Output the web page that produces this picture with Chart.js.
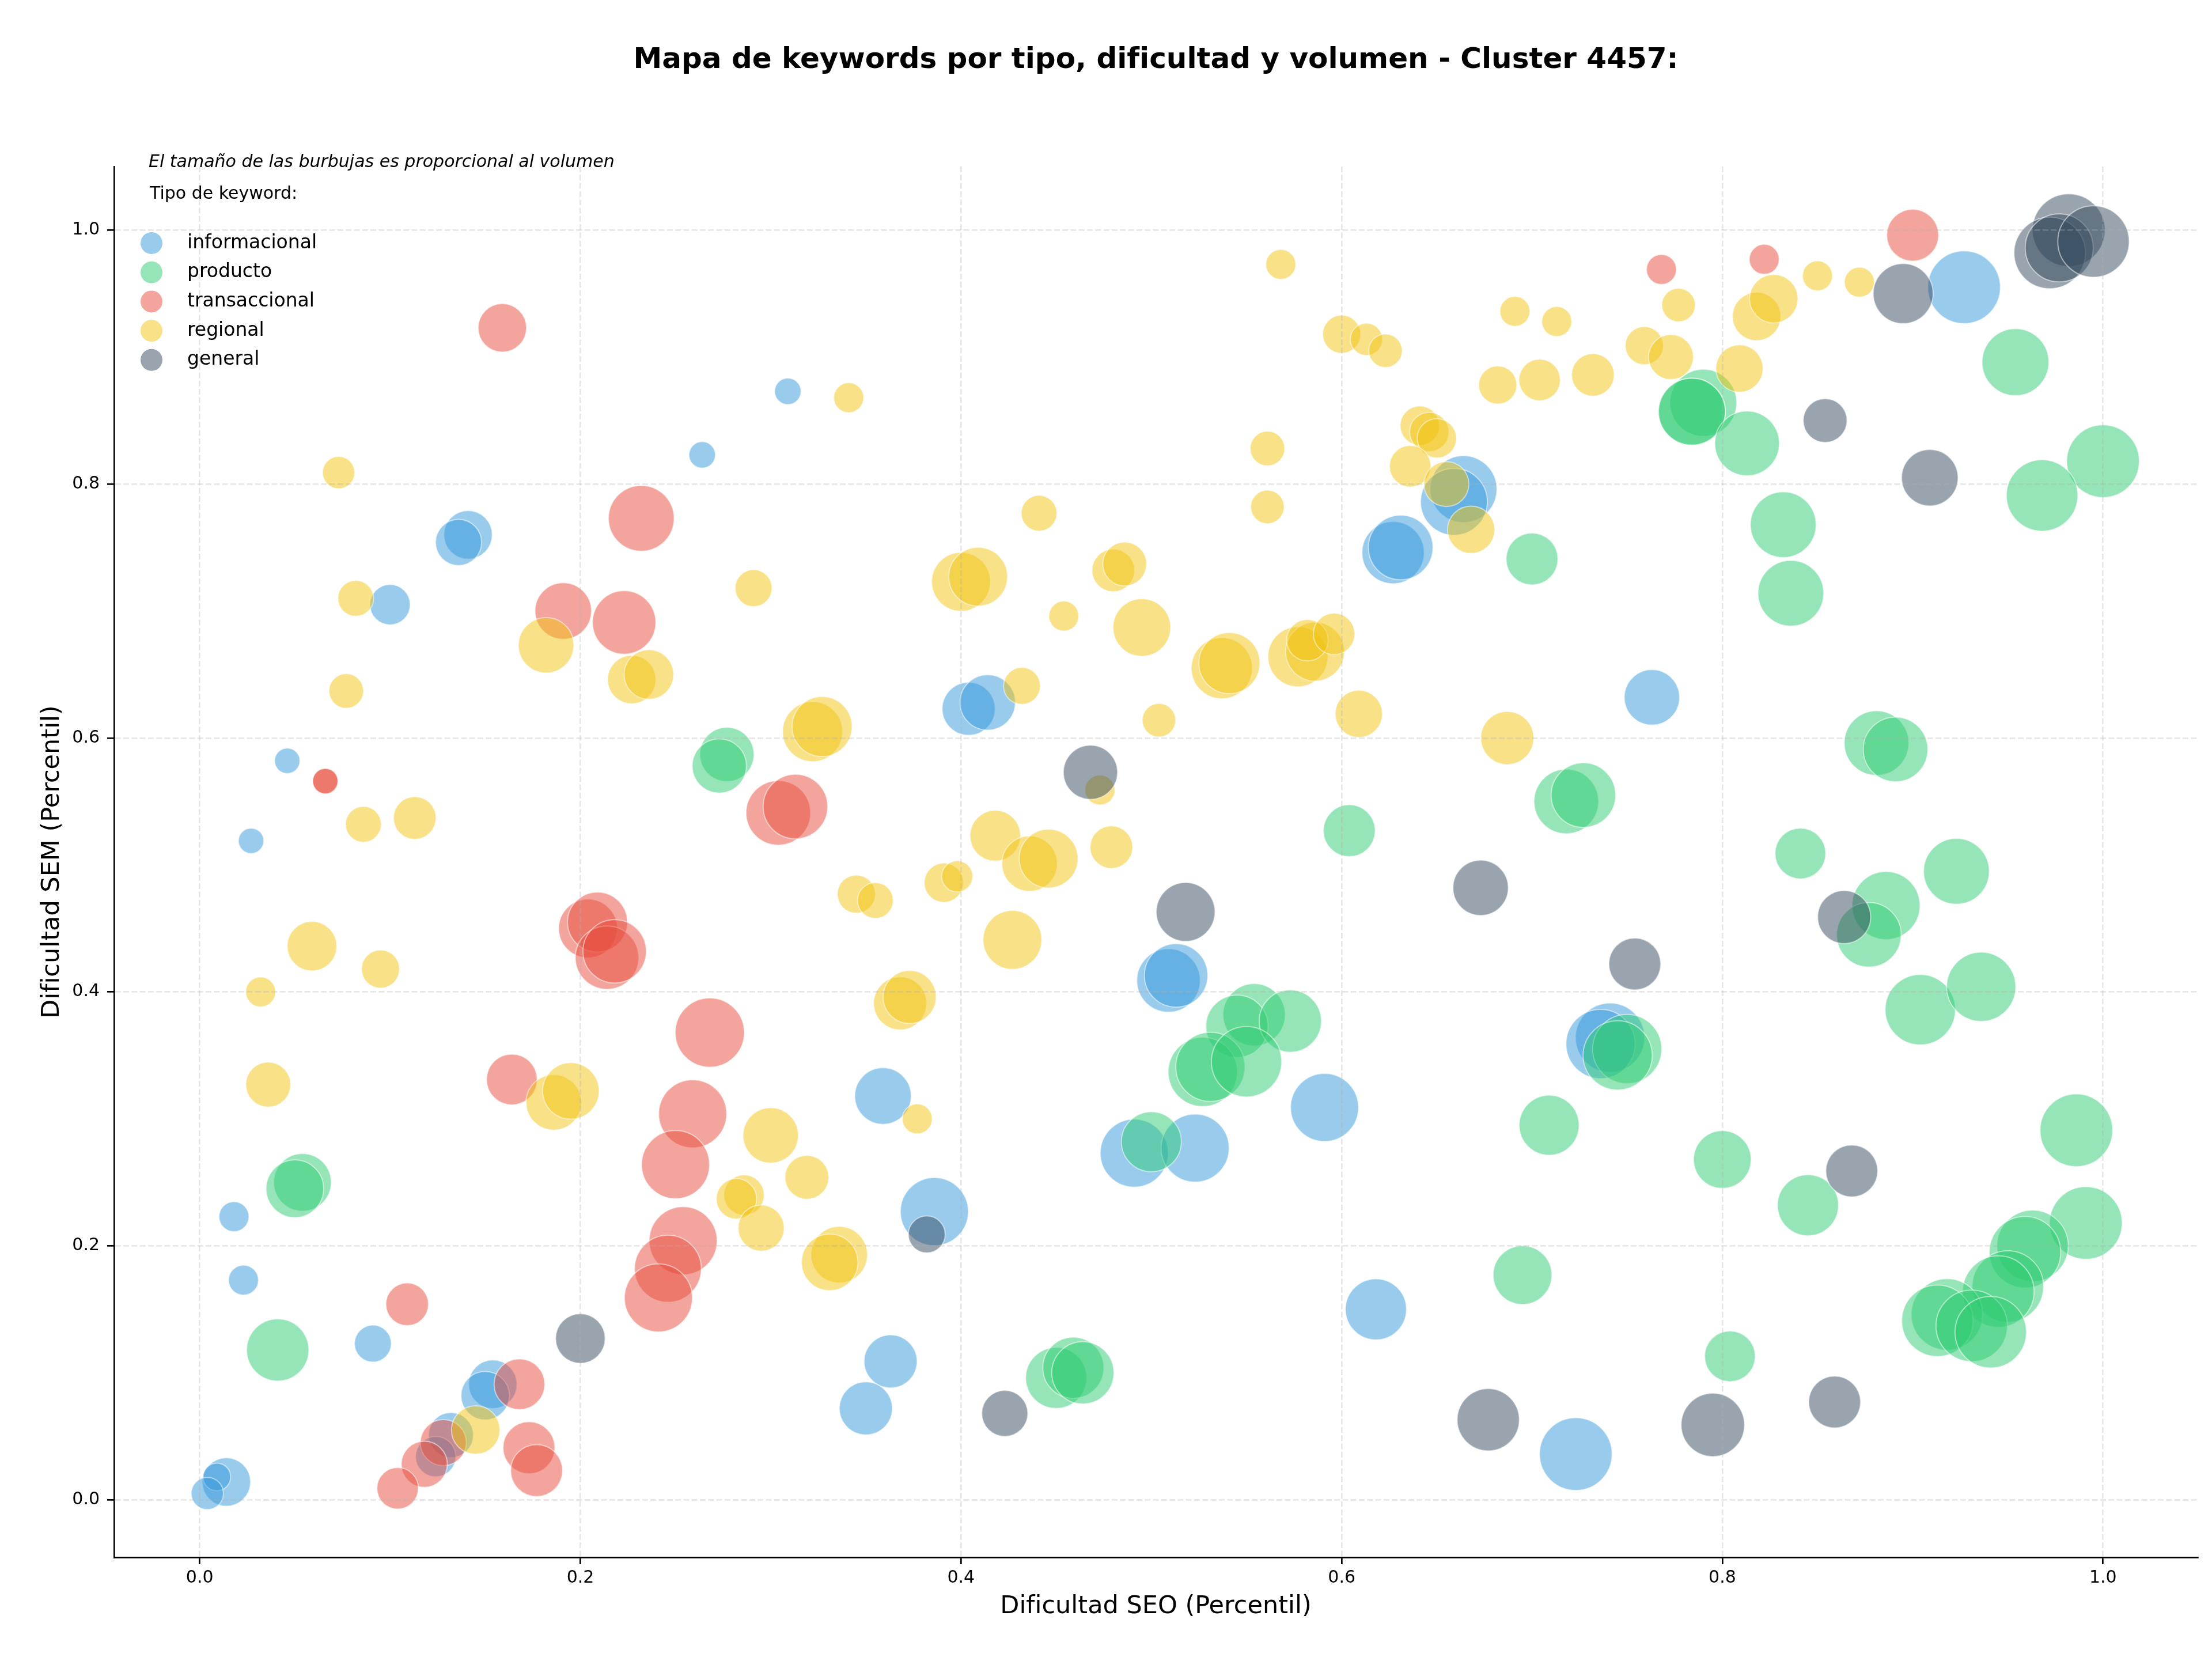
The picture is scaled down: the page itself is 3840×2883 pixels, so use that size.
<!DOCTYPE html>
<html lang="es">
<head>
<meta charset="utf-8">
<title>Mapa de keywords - Cluster 4457</title>
<script src="https://cdn.jsdelivr.net/npm/chart.js@4.4.1/dist/chart.umd.min.js"></script>
<style>
    html, body { margin: 0; padding: 0; background: #ffffff; }
    #wrap { width: 3840px; height: 2883px; }
</style>
</head>
<body>
<div id="wrap"><canvas id="keywordChart" width="3840" height="2883"></canvas></div>
<script>
// Dificultad SEO (x), dificultad SEM (y) y volumen por tipo de keyword
const infoSeo = [0.309, 0.264, 0.141, 0.136, 0.100, 0.046, 0.027, 0.664, 0.659, 0.627, 0.631, 0.404, 0.414, 0.927, 0.763, 0.018, 0.023, 0.091, 0.154, 0.150, 0.132, 0.124, 0.014, 0.009, 0.004, 0.509, 0.513, 0.591, 0.359, 0.491, 0.523, 0.386, 0.618, 0.363, 0.350, 0.741, 0.736, 0.723];
const infoSem = [0.873, 0.823, 0.760, 0.754, 0.705, 0.582, 0.519, 0.796, 0.786, 0.746, 0.750, 0.623, 0.628, 0.955, 0.632, 0.223, 0.173, 0.123, 0.091, 0.082, 0.051, 0.034, 0.014, 0.018, 0.005, 0.409, 0.413, 0.309, 0.318, 0.273, 0.277, 0.227, 0.150, 0.109, 0.072, 0.364, 0.359, 0.036];
const infoVol = [940, 940, 3140, 2840, 2180, 860, 860, 5980, 5980, 5180, 5580, 3760, 4100, 7060, 4100, 1200, 1200, 1820, 3140, 3140, 2700, 2180, 3140, 1020, 1390, 5380, 5380, 6190, 4270, 6190, 6190, 6190, 4990, 3760, 3760, 6400, 6400, 7060];

const prodSeo = [0.277, 0.273, 0.604, 0.790, 0.784, 0.784, 0.813, 0.954, 1.000, 0.968, 0.700, 0.832, 0.836, 0.881, 0.891, 0.718, 0.727, 0.841, 0.054, 0.050, 0.041, 0.554, 0.545, 0.573, 0.527, 0.531, 0.550, 0.500, 0.450, 0.459, 0.464, 0.750, 0.745, 0.709, 0.800, 0.845, 0.695, 0.804, 0.886, 0.877, 0.923, 0.904, 0.936, 0.986, 0.991, 0.963, 0.959, 0.950, 0.945, 0.918, 0.913, 0.931, 0.941];
const prodSem = [0.587, 0.578, 0.527, 0.864, 0.857, 0.857, 0.832, 0.896, 0.818, 0.791, 0.741, 0.768, 0.714, 0.596, 0.591, 0.550, 0.555, 0.509, 0.250, 0.245, 0.118, 0.382, 0.373, 0.377, 0.337, 0.341, 0.345, 0.282, 0.096, 0.104, 0.100, 0.355, 0.350, 0.295, 0.268, 0.232, 0.177, 0.113, 0.468, 0.445, 0.495, 0.386, 0.404, 0.291, 0.218, 0.200, 0.195, 0.168, 0.164, 0.146, 0.141, 0.137, 0.132];
const prodVol = [3930, 3930, 3600, 5980, 5980, 5980, 5580, 5980, 7060, 6830, 3600, 5780, 5780, 5580, 5580, 5580, 5580, 3440, 4440, 4440, 5180, 5180, 5180, 5180, 6400, 6400, 6620, 4810, 4990, 4990, 5180, 6400, 6400, 4810, 4440, 4990, 4620, 3440, 6190, 5580, 5780, 6620, 6400, 7060, 7060, 6830, 6830, 6830, 6830, 6830, 6830, 6830, 6830];

const transSeo = [0.159, 0.232, 0.191, 0.223, 0.066, 0.066, 0.304, 0.313, 0.768, 0.822, 0.900, 0.204, 0.209, 0.214, 0.218, 0.268, 0.259, 0.250, 0.254, 0.246, 0.241, 0.164, 0.109, 0.168, 0.128, 0.118, 0.104, 0.173, 0.177];
const transSem = [0.923, 0.773, 0.700, 0.691, 0.566, 0.566, 0.541, 0.546, 0.969, 0.977, 0.996, 0.450, 0.455, 0.427, 0.432, 0.368, 0.304, 0.264, 0.204, 0.182, 0.159, 0.331, 0.154, 0.091, 0.045, 0.028, 0.009, 0.041, 0.023];
const transVol = [3140, 5780, 4270, 5380, 860, 860, 5580, 5580, 1200, 1200, 3600, 4620, 4810, 5380, 5380, 6400, 6190, 6190, 6190, 5980, 6190, 3440, 2430, 3440, 2840, 2840, 2300, 3600, 3600];

const regSeo = [0.073, 0.291, 0.082, 0.182, 0.227, 0.236, 0.077, 0.086, 0.113, 0.568, 0.341, 0.600, 0.613, 0.623, 0.682, 0.641, 0.646, 0.650, 0.561, 0.636, 0.655, 0.668, 0.561, 0.441, 0.400, 0.409, 0.480, 0.486, 0.454, 0.495, 0.537, 0.541, 0.577, 0.586, 0.582, 0.596, 0.609, 0.687, 0.504, 0.432, 0.322, 0.327, 0.473, 0.418, 0.436, 0.446, 0.479, 0.691, 0.713, 0.704, 0.732, 0.777, 0.759, 0.773, 0.809, 0.818, 0.827, 0.850, 0.872, 0.059, 0.095, 0.032, 0.036, 0.186, 0.195, 0.300, 0.319, 0.286, 0.282, 0.295, 0.145, 0.345, 0.355, 0.391, 0.398, 0.427, 0.368, 0.373, 0.377, 0.336, 0.331];
const regSem = [0.809, 0.718, 0.710, 0.673, 0.646, 0.650, 0.637, 0.532, 0.537, 0.973, 0.868, 0.918, 0.914, 0.905, 0.878, 0.846, 0.841, 0.836, 0.828, 0.814, 0.800, 0.764, 0.782, 0.777, 0.723, 0.727, 0.732, 0.737, 0.696, 0.687, 0.655, 0.659, 0.664, 0.668, 0.677, 0.682, 0.619, 0.600, 0.614, 0.641, 0.605, 0.609, 0.559, 0.523, 0.501, 0.505, 0.514, 0.936, 0.928, 0.882, 0.886, 0.941, 0.909, 0.900, 0.891, 0.932, 0.946, 0.964, 0.959, 0.436, 0.418, 0.400, 0.327, 0.313, 0.322, 0.287, 0.254, 0.240, 0.237, 0.214, 0.055, 0.477, 0.472, 0.486, 0.491, 0.441, 0.391, 0.396, 0.300, 0.193, 0.187];
const regVol = [1390, 1820, 1710, 4100, 3140, 3290, 1600, 1710, 2430, 1200, 1200, 1940, 1390, 1500, 1940, 2060, 2060, 2060, 1600, 2300, 2700, 2990, 1500, 1710, 4620, 4620, 2430, 2570, 1200, 4440, 4990, 4990, 4810, 4620, 2300, 2300, 2990, 3760, 1500, 1820, 4810, 4810, 1200, 3440, 4100, 4620, 2430, 1200, 1200, 2300, 2430, 1500, 1940, 2700, 2990, 3140, 3140, 1200, 1200, 3290, 1940, 1200, 2700, 4100, 4270, 4100, 2570, 2180, 2180, 2840, 3140, 1940, 1710, 2060, 1300, 4620, 3760, 3760, 1200, 4270, 4270];

const genSeo = [0.468, 0.895, 0.982, 0.972, 0.977, 0.995, 0.854, 0.909, 0.200, 0.518, 0.382, 0.423, 0.673, 0.677, 0.754, 0.868, 0.795, 0.859, 0.864];
const genSem = [0.573, 0.950, 1.000, 0.982, 0.986, 0.991, 0.850, 0.805, 0.127, 0.463, 0.209, 0.068, 0.482, 0.063, 0.422, 0.259, 0.059, 0.077, 0.459];
const genVol = [3930, 4810, 7060, 6830, 6190, 6830, 2570, 4270, 3290, 4620, 1820, 2840, 4100, 5180, 3600, 3600, 5380, 3600, 3760];

const tipos = ['informacional', 'producto', 'transaccional', 'regional', 'general'];
const axisTicks = [0.0, 0.2, 0.4, 0.6, 0.8, 1.0];

const FONT = '"DejaVu Sans", "Liberation Sans", sans-serif';
const colores = ['rgba(52,152,219,0.5)', 'rgba(46,204,113,0.5)', 'rgba(231,76,60,0.5)', 'rgba(241,196,15,0.5)', 'rgba(52,73,94,0.5)'];

// el radio de la burbuja crece con la raiz del volumen (area proporcional)
function toPoints(seo, sem, vol) {
    return seo.map((x, i) => ({ x: x, y: sem[i], r: Math.sqrt(vol[i]) * 0.75 }));
}

const series = [
    toPoints(infoSeo, infoSem, infoVol),
    toPoints(prodSeo, prodSem, prodVol),
    toPoints(transSeo, transSem, transVol),
    toPoints(regSeo, regSem, regVol),
    toPoints(genSeo, genSem, genVol)
];

// nota en cursiva y leyenda dentro del area del grafico
const notasPlugin = {
    id: 'notas',
    afterDraw(chart) {
        const ctx = chart.ctx;
        const area = chart.chartArea;
        ctx.save();
        ctx.fillStyle = '#000';
        ctx.textAlign = 'left';
        ctx.textBaseline = 'alphabetic';
        ctx.font = 'italic 30px ' + FONT;
        ctx.fillText('El tamaño de las burbujas es proporcional al volumen', area.left + 60, area.top + 1);
        ctx.font = '30px ' + FONT;
        ctx.fillText('Tipo de keyword:', area.left + 62, area.top + 56);

        chart.data.datasets.forEach((ds, i) => {
            const y = area.top + 133 + i * 50.7;
            ctx.beginPath();
            ctx.arc(area.left + 65, y, 19, 0, Math.PI * 2);
            ctx.fillStyle = ds.backgroundColor;
            ctx.fill();
            ctx.fillStyle = '#000';
            ctx.font = '33px ' + FONT;
            ctx.textBaseline = 'middle';
            ctx.fillText(ds.label, area.left + 127, y);
        });
        ctx.restore();
    }
};

function axisOptions(min, max, title, isX) {
    return {
        type: 'linear',
        min: min,
        max: max,
        afterBuildTicks: scale => { scale.ticks = axisTicks.map(v => ({ value: v })); },
        afterFit: scale => {
            if (isX) scale.height = 180; else scale.width = 198;
        },
        ticks: {
            callback: v => v.toFixed(1),
            color: '#000',
            font: { family: FONT, size: 30 },
            padding: isX ? 6 : 13
        },
        grid: {
            color: 'rgba(176,176,176,0.3)',
            lineWidth: 2.7,
            tickLength: 12,
            tickColor: '#000',
            tickWidth: 2.7,
            z: 1
        },
        border: { display: true, color: '#000', width: 2.7, dash: [10, 4.3], z: 1 },
        title: {
            display: true,
            text: title,
            color: '#000',
            font: { family: FONT, size: 43 },
            padding: isX ? { top: 0, bottom: 68 } : { top: 65, bottom: 0 }
        }
    };
}

const ctx = document.getElementById('keywordChart').getContext('2d');
new Chart(ctx, {
    type: 'bubble',
    data: {
        datasets: tipos.map((t, i) => ({
            label: t,
            data: series[i],
            backgroundColor: colores[i],
            borderColor: 'rgba(255,255,255,0.5)',
            borderWidth: 2,
            order: tipos.length - i
        }))
    },
    options: {
        responsive: false,
        devicePixelRatio: 1,
        animation: false,
        layout: { autoPadding: false, padding: { left: 0, right: 25, top: 0, bottom: 0 } },
        scales: {
            x: axisOptions(-0.045, 1.0497, 'Dificultad SEO (Percentil)', true),
            y: axisOptions(-0.0453, 1.0501, 'Dificultad SEM (Percentil)', false)
        },
        plugins: {
            legend: { display: false },
            tooltip: { enabled: false },
            title: {
                display: true,
                fullSize: false,
                text: 'Mapa de keywords por tipo, dificultad y volumen - Cluster 4457:',
                color: '#000',
                font: { family: FONT, size: 50, weight: 'bold' },
                padding: { top: 75, bottom: 154 }
            }
        }
    },
    plugins: [notasPlugin]
});
</script>
</body>
</html>
